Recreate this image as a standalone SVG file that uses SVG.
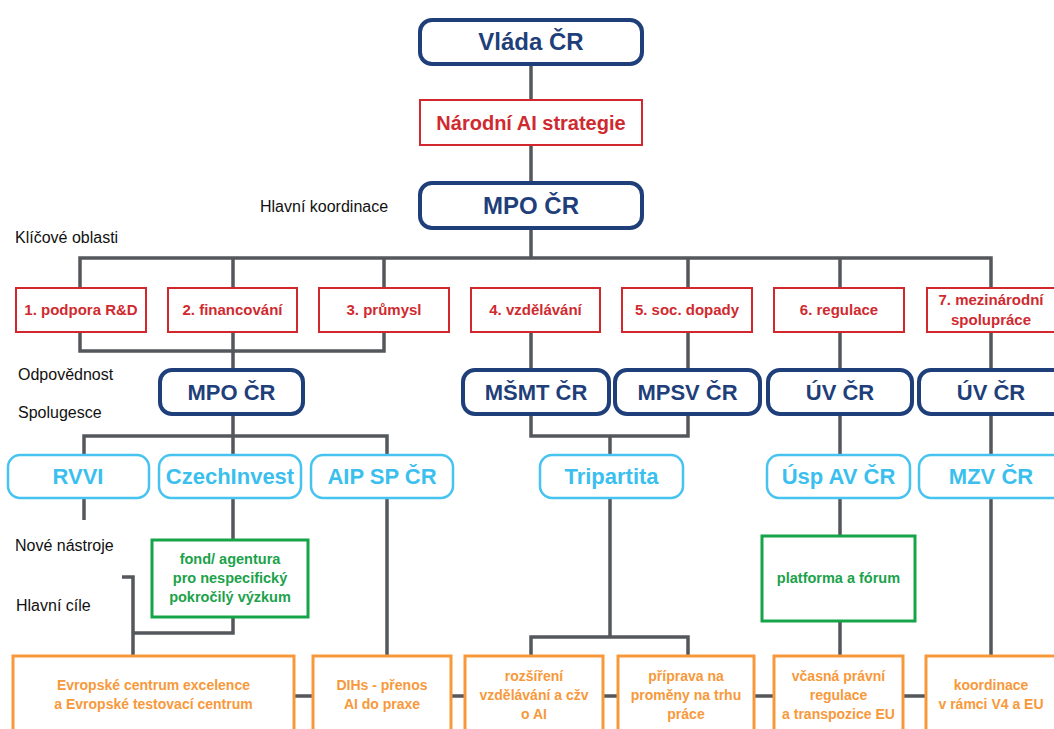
<svg xmlns="http://www.w3.org/2000/svg" width="1054" height="729" viewBox="0 0 1054 729">
<style>
text{font-family:"Liberation Sans",Arial,sans-serif;text-anchor:middle;font-weight:bold}
.db rect{fill:#fff;stroke:#1f3f7a;stroke-width:4}
.db text{fill:#1f3f7a;font-size:22px}
.rd rect{fill:#fff;stroke:#d2272d;stroke-width:2}
.rd text{fill:#cf2a2f;font-size:15px}
.lb rect{fill:#fff;stroke:#46c3ef;stroke-width:2.5}
.lb text{fill:#3bbfee;font-size:22px}
.gr rect{fill:#fff;stroke:#16a449;stroke-width:3}
.gr text{fill:#1ba24a;font-size:14.5px}
.or rect{fill:#fff;stroke:#f7993b;stroke-width:3}
.or text{fill:#f7993b;font-size:14px}
.lbl{fill:#111;font-weight:normal;text-anchor:start;font-size:16px}
#connectors path{fill:none;stroke:#54575c;stroke-width:3.5}
</style>
<rect width="1054" height="729" fill="#fff"/>
<g id="connectors">
<path d="M531 64V100M531 145V183M531 228V258"/>
<path d="M80 288V258H991V288M233 258V288M384 258V288M688 258V288M840 258V288"/>
<path d="M80 332V351H384V332M233 332V370"/>
<path d="M531 332V370M688 332V370M840 332V370M991 332V370"/>
<path d="M233 414V436M84 455V436H387V455M233 436V455"/>
<path d="M531 414V436H688V414M610 436V455"/>
<path d="M840 414V455M991 414V455"/>
<path d="M84 498V520"/>
<path d="M233 498V540M233 617V633H133M122 577H133V656"/>
<path d="M387 498V656"/>
<path d="M610 498V637M531 656V637H688V656"/>
<path d="M840 498V536M840 621V656"/>
<path d="M991 498V656"/>
<path d="M294 696H313M451 696H465M603 696H618M754 696H774M903 696H926"/>
</g>
<text class="lbl" x="260" y="212">Hlavní koordinace</text>
<text class="lbl" x="15" y="243">Klíčové oblasti</text>
<text class="lbl" x="18" y="380">Odpovědnost</text>
<text class="lbl" x="18" y="418">Spolugesce</text>
<text class="lbl" x="15" y="551">Nové nástroje</text>
<text class="lbl" x="16" y="611">Hlavní cíle</text>
<g id="vlada" class="db"><rect x="420" y="20" width="222" height="44" rx="12"/><text x="531" y="50" style="font-size:24px">Vláda ČR</text></g>
<g id="strategie" class="rd"><rect x="420" y="100" width="222" height="45"/><text x="531" y="130" style="font-size:20px">Národní AI strategie</text></g>
<g id="mpo-top" class="db"><rect x="420" y="183" width="222" height="45" rx="12"/><text x="531" y="214" style="font-size:24px">MPO ČR</text></g>
<g id="o1" class="rd"><rect x="16" y="288" width="130" height="44"/><text x="81" y="315">1. podpora R&amp;D</text></g>
<g id="o2" class="rd"><rect x="168" y="288" width="129" height="44"/><text x="232.5" y="315">2. financování</text></g>
<g id="o3" class="rd"><rect x="319" y="288" width="130" height="44"/><text x="384" y="315">3. průmysl</text></g>
<g id="o4" class="rd"><rect x="471" y="288" width="129" height="44"/><text x="535.5" y="315">4. vzdělávání</text></g>
<g id="o5" class="rd"><rect x="622" y="288" width="130" height="44"/><text x="687" y="315">5. soc. dopady</text></g>
<g id="o6" class="rd"><rect x="774" y="288" width="130" height="44"/><text x="839" y="315">6. regulace</text></g>
<g id="o7" class="rd"><rect x="927" y="288" width="130" height="44"/><text x="991" y="305">7. mezinárodní</text><text x="991" y="325">spolupráce</text></g>
<g id="mpo2" class="db"><rect x="160" y="370" width="143" height="44" rx="12"/><text x="231.5" y="400">MPO ČR</text></g>
<g id="msmt" class="db"><rect x="463" y="370" width="146" height="44" rx="12"/><text x="536" y="400">MŠMT ČR</text></g>
<g id="mpsv" class="db"><rect x="615" y="370" width="145" height="44" rx="12"/><text x="687.5" y="400">MPSV ČR</text></g>
<g id="uv1" class="db"><rect x="768" y="370" width="144" height="44" rx="12"/><text x="840" y="400">ÚV ČR</text></g>
<g id="uv2" class="db"><rect x="919" y="370" width="146" height="44" rx="12"/><text x="991" y="400">ÚV ČR</text></g>
<g id="rvvi" class="lb"><rect x="8" y="455" width="141" height="43" rx="12"/><text x="78" y="484">RVVI</text></g>
<g id="czechinvest" class="lb"><rect x="159" y="455" width="142" height="43" rx="12"/><text x="230" y="484">CzechInvest</text></g>
<g id="aip" class="lb"><rect x="311" y="455" width="142" height="43" rx="12"/><text x="382" y="484">AIP SP ČR</text></g>
<g id="tripartita" class="lb"><rect x="540" y="455" width="143" height="43" rx="12"/><text x="611.5" y="484">Tripartita</text></g>
<g id="usp" class="lb"><rect x="767" y="455" width="143" height="43" rx="12"/><text x="838.5" y="484">Úsp AV ČR</text></g>
<g id="mzv" class="lb"><rect x="919" y="455" width="146" height="43" rx="12"/><text x="991" y="484">MZV ČR</text></g>
<g id="fond" class="gr"><rect x="152" y="540" width="156" height="77"/><text x="230" y="564">fond/ agentura</text><text x="230" y="583">pro nespecifický</text><text x="230" y="602">pokročilý výzkum</text></g>
<g id="platforma" class="gr"><rect x="762" y="536" width="153" height="85"/><text x="838.5" y="583">platforma a fórum</text></g>
<g id="c1" class="or"><rect x="13" y="656" width="281" height="90"/><text x="153.5" y="690">Evropské centrum excelence</text><text x="153.5" y="709">a Evropské testovací centrum</text></g>
<g id="c2" class="or"><rect x="313" y="656" width="138" height="90"/><text x="382" y="690">DIHs - přenos</text><text x="382" y="709">AI do praxe</text></g>
<g id="c3" class="or"><rect x="465" y="656" width="138" height="90"/><text x="534" y="681">rozšíření</text><text x="534" y="700">vzdělávání a cžv</text><text x="534" y="719">o AI</text></g>
<g id="c4" class="or"><rect x="618" y="656" width="136" height="90"/><text x="686" y="681">příprava na</text><text x="686" y="700">proměny na trhu</text><text x="686" y="719">práce</text></g>
<g id="c5" class="or"><rect x="774" y="656" width="129" height="90"/><text x="838.5" y="681">včasná právní</text><text x="838.5" y="700">regulace</text><text x="838.5" y="719">a transpozice EU</text></g>
<g id="c6" class="or"><rect x="926" y="656" width="132" height="90"/><text x="991" y="690">koordinace</text><text x="991" y="709">v rámci V4 a EU</text></g>
</svg>
